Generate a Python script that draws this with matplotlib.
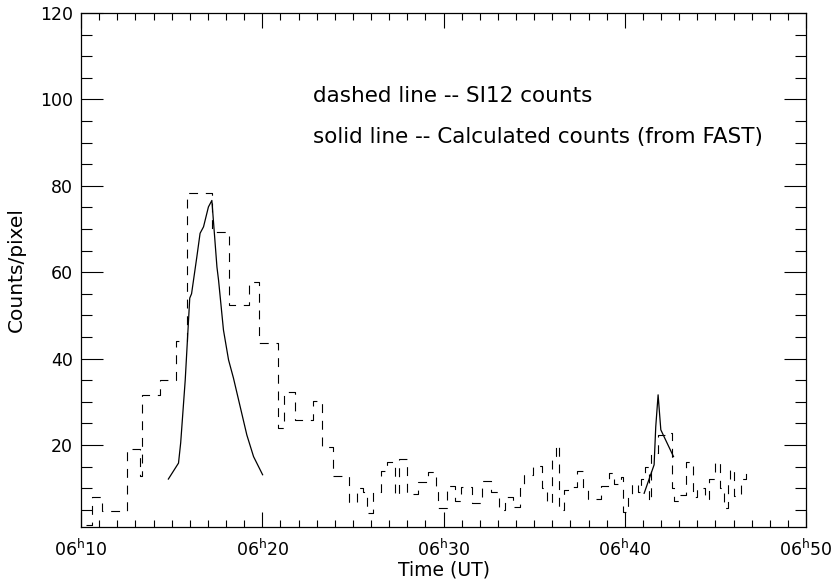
import numpy as np
import matplotlib
matplotlib.use("Agg")
import matplotlib.pyplot as plt
from matplotlib.ticker import MultipleLocator, FixedLocator

plt.rcParams['font.family'] = ['DejaVu Sans']
plt.rcParams['mathtext.fontset'] = 'dejavusans'

# SI12 counts, step series: start time of each step (minutes after 06:10) and value
si12_t = [0.28, 0.61, 1.16, 2.54, 3.26, 3.37, 4.36, 5.25, 5.86, 7.24,
          8.18, 9.28, 9.83, 10.88, 11.22, 11.82, 12.82, 13.31, 13.92, 14.81,
          15.25, 15.58, 15.80, 16.13, 16.57, 16.91, 17.35, 17.57, 17.96, 18.62,
          19.12, 19.56, 19.67, 20.17, 20.66, 20.99, 21.55, 22.10, 22.60, 23.04,
          23.37, 23.81, 24.20, 24.42, 24.92, 25.41, 25.69, 25.97, 26.19, 26.35,
          26.63, 26.85, 27.35, 27.68, 27.96, 28.67, 29.12, 29.39, 29.78, 29.89,
          30.17, 30.39, 30.72, 30.88, 31.10, 31.33, 31.44, 31.82, 32.21, 32.60,
          32.71, 32.98, 33.37, 33.76, 33.98, 34.42, 34.64, 34.97, 35.25, 35.47,
          35.69, 35.80, 36.02, 36.41, 36.69]
si12_v = [1.5, 8.0, 4.7, 19.0, 12.8, 31.5, 35.0, 44.0, 78.3, 69.2,
          52.5, 57.8, 43.5, 24.0, 32.3, 25.8, 30.2, 19.5, 12.8, 6.8,
          10.0, 9.0, 4.3, 9.0, 14.0, 16.0, 8.5, 16.8, 8.7, 11.5,
          13.8, 9.0, 5.5, 10.5, 7.0, 10.3, 6.5, 11.7, 9.0, 5.0,
          8.0, 5.7, 10.0, 13.0, 15.1, 10.0, 6.5, 17.5, 20.0, 5.0,
          9.5, 10.3, 14.0, 10.0, 7.5, 10.5, 13.5, 11.0, 12.5, 4.5,
          8.0, 11.0, 9.0, 12.0, 15.0, 7.0, 18.2, 22.3, 22.8, 10.0,
          7.0, 8.5, 16.0, 8.0, 10.0, 7.5, 12.0, 16.0, 10.0, 5.5,
          12.0, 14.5, 8.2, 12.0, 14.0]

# calculated counts (from FAST), two solid segments
fast1_t = [4.82, 5.38, 5.50, 5.75, 6.00, 6.10, 6.39, 6.57, 6.76, 7.03,
           7.22, 7.50, 7.59, 7.86, 8.14, 8.41, 8.78, 9.15, 9.52, 10.02]
fast1_v = [12.1, 15.8, 20.5, 35.0, 54.0, 55.0, 63.5, 69.0, 70.5, 75.1,
           76.6, 61.2, 58.1, 46.6, 39.7, 35.5, 28.9, 22.3, 17.3, 13.1]
fast2_t = [31.07, 31.62, 31.71, 31.84, 31.99, 32.17, 32.69]
fast2_v = [8.8, 15.4, 24.2, 31.6, 23.5, 21.9, 17.3]

xtick_min = [0, 10, 20, 30, 40]
xtick_lab = [r'06$^{\mathregular{h}}$10', r'06$^{\mathregular{h}}$20',
             r'06$^{\mathregular{h}}$30', r'06$^{\mathregular{h}}$40',
             r'06$^{\mathregular{h}}$50']

fig = plt.figure(figsize=(8.33, 5.81), dpi=100)
ax = fig.add_axes([81/833, 1-527/581, 725/833, 514/581])

ax.plot(si12_t, si12_v, drawstyle='steps-post', color='black', lw=0.8,
        linestyle=(0, (8, 7)))
ax.plot(fast1_t, fast1_v, color='black', lw=0.9)
ax.plot(fast2_t, fast2_v, color='black', lw=0.9)

ax.set_xlim(0, 40)
ax.set_ylim(1, 120)
ax.xaxis.set_major_locator(FixedLocator(xtick_min))
ax.set_xticklabels(xtick_lab)
ax.xaxis.set_minor_locator(MultipleLocator(1))
ax.yaxis.set_major_locator(MultipleLocator(20))
ax.yaxis.set_minor_locator(MultipleLocator(5))

ax.tick_params(axis='both', which='both', direction='in', top=True, right=True,
               width=0.8, labelsize=12.5, colors='black')
ax.tick_params(axis='y', which='major', length=15.6, pad=6)
ax.tick_params(axis='y', which='minor', length=7.9)
ax.tick_params(axis='x', which='major', length=10.8, pad=8)
ax.tick_params(axis='x', which='minor', length=5.3)
for s in ax.spines.values():
    s.set_linewidth(0.9)

ax.set_xlabel('Time (UT)', fontsize=13.5, labelpad=1)
ax.set_ylabel('Counts/pixel', fontsize=14.5, labelpad=10)

ax.text(0.32, 0.8385, 'dashed line -- SI12 counts', transform=ax.transAxes,
        fontsize=15.5, va='center', ha='left')
ax.text(0.32, 0.759, 'solid line -- Calculated counts (from FAST)',
        transform=ax.transAxes, fontsize=15.5, va='center', ha='left')

fig.savefig('out.png', dpi=100)
